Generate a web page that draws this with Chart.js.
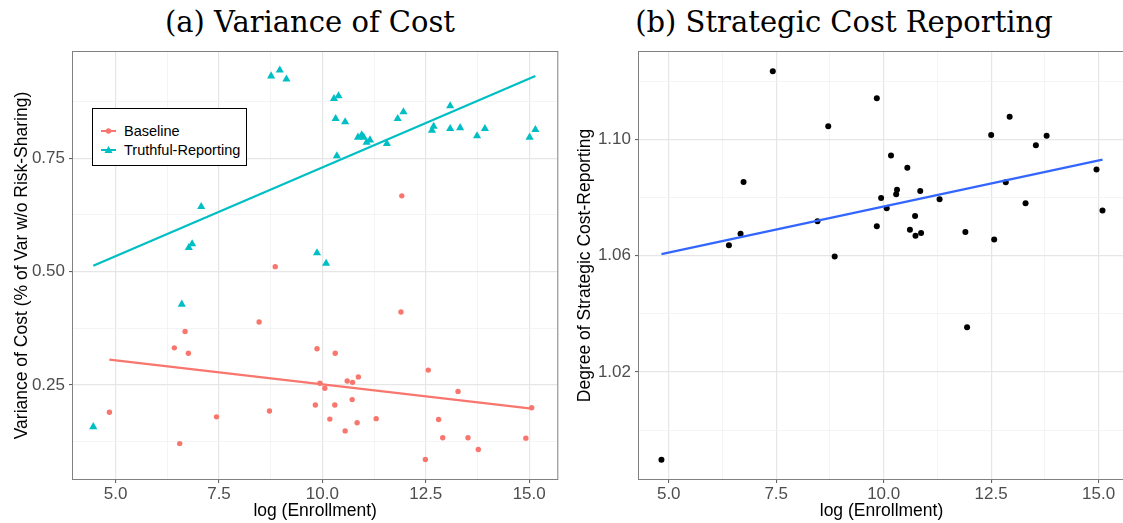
<!DOCTYPE html>
<html>
<head>
<meta charset="utf-8">
<script src="https://cdn.jsdelivr.net/npm/chart.js@4.4.0/dist/chart.umd.min.js"></script>
<style>
  body { margin: 0; width: 1123px; height: 523px; overflow: hidden; background: #fff; position: relative;
         font-family: "Liberation Sans", Arial, sans-serif; }
  .panel { position: absolute; top: 0; }
  .title { position: absolute; top: 8px; font-family: "DejaVu Serif", serif; font-size: 29px; line-height: 29px;
           white-space: nowrap; transform: translateX(-50%); color: #000; }
  #legend { position: absolute; left: 92px; top: 108px; width: 153px; height: 56px; border: 1px solid #000;
            background: #fff; font-size: 14.5px; color: #000; }
  .item { position: absolute; left: 8px; height: 20px; line-height: 20px; white-space: nowrap; }
  .item svg { position: absolute; left: 0; top: 4px; }
  .item span { position: absolute; left: 23px; }
</style>
</head>
<body>
<div class="title" style="left:310px">(a) Variance of Cost</div>
<div class="title" style="left:844px">(b) Strategic Cost Reporting</div>
<canvas id="costChart" class="panel" style="left:0" width="562" height="523"></canvas>
<canvas id="strategicChart" class="panel" style="left:562px" width="566" height="523"></canvas>
<div id="legend">
  <div class="item" style="top:12px">
    <svg width="16" height="12"><line x1="0" y1="6" x2="15" y2="6" stroke="#F8766D" stroke-width="2"/><circle cx="7.5" cy="6" r="2.7" fill="#F8766D"/></svg>
    <span id="lgBase"></span>
  </div>
  <div class="item" style="top:31px">
    <svg width="16" height="12"><line x1="0" y1="6" x2="15" y2="6" stroke="#00BFC4" stroke-width="2"/><polygon points="7.5,2 11.5,9 3.5,9" fill="#00BFC4"/></svg>
    <span id="lgTruth"></span>
  </div>
</div>
<script>
// === data ===
const seriesNames = ['Baseline', 'Truthful-Reporting'];

const baselineX = [8.86, 11.92, 8.47, 6.68, 6.42, 6.76, 4.85, 7.44, 8.72, 6.55, 9.87, 10.31, 11.90, 12.56,
  10.60, 10.73, 10.87, 9.94, 10.06, 13.28, 9.83, 10.30, 10.72, 10.18, 11.30, 10.84, 10.55, 12.81, 12.91,
  13.52, 13.77, 12.49, 14.92, 15.06];
const baselineY = [0.511, 0.667, 0.389, 0.368, 0.332, 0.320, 0.190, 0.180, 0.193, 0.121, 0.330, 0.320, 0.411, 0.283,
  0.259, 0.256, 0.268, 0.254, 0.243, 0.236, 0.206, 0.206, 0.218, 0.175, 0.176, 0.167, 0.149, 0.174, 0.134,
  0.134, 0.108, 0.086, 0.133, 0.200];

const truthfulX = [8.76, 8.97, 9.13, 7.07, 6.77, 6.85, 9.87, 10.09, 10.28, 10.39, 10.32, 10.55, 10.35, 10.86,
  10.95, 11.00, 11.07, 11.15, 11.56, 11.82, 11.96, 12.65, 12.69, 13.09, 13.09, 13.33, 13.74, 13.93, 15.01,
  15.15, 6.60, 4.46];
const truthfulY = [0.931, 0.944, 0.924, 0.643, 0.553, 0.561, 0.541, 0.518, 0.881, 0.887, 0.837, 0.830, 0.755, 0.796,
  0.801, 0.796, 0.785, 0.790, 0.782, 0.837, 0.852, 0.811, 0.820, 0.865, 0.815, 0.817, 0.799, 0.815, 0.796,
  0.813, 0.428, 0.158];

const strategicX = [7.42, 9.84, 8.71, 6.74, 8.46, 6.67, 6.40, 8.86, 9.84, 12.93, 12.50, 13.79, 13.54, 10.17,
  10.55, 14.95, 12.84, 9.94, 10.31, 10.29, 10.85, 10.07, 11.30, 13.30, 15.09, 10.73, 10.61, 10.87, 10.74,
  11.90, 12.57, 11.94, 4.83];
const strategicY = [1.1234, 1.1141, 1.1045, 1.0853, 1.0718, 1.0675, 1.0636, 1.0597, 1.0701, 1.1077, 1.1015, 1.1012, 1.0979, 1.0944,
  1.0902, 1.0896, 1.0852, 1.0798, 1.0826, 1.0811, 1.0822, 1.0763, 1.0794, 1.0780, 1.0755, 1.0736, 1.0689, 1.0678, 1.0668,
  1.0681, 1.0655, 1.0354, 0.9898];

// fitted lines (end points)
const baselineFitX = [4.85, 15.06];
const baselineFitY = [0.306, 0.198];
const truthfulFitX = [4.46, 15.15];
const truthfulFitY = [0.513, 0.931];
const strategicFitX = [4.83, 15.09];
const strategicFitY = [1.0605, 1.0930];

// tick values and labels
const xMajor = [5, 7.5, 10, 12.5, 15];
const xLabels = ['5.0', '7.5', '10.0', '12.5', '15.0'];
const xMinor = [6.25, 8.75, 11.25, 13.75];
const costYMajor = [0.25, 0.5, 0.75];
const costYLabels = ['0.25', '0.50', '0.75'];
const costYMinor = [0.125, 0.375, 0.625, 0.875];
const stratYMajor = [1.02, 1.06, 1.10];
const stratYLabels = ['1.02', '1.06', '1.10'];
const stratYMinor = [1.00, 1.04, 1.08, 1.12];

const RED = '#F8766D', TEAL = '#00BFC4', BLUE = '#3366FF';

document.getElementById('lgBase').textContent = seriesNames[0];
document.getElementById('lgTruth').textContent = seriesNames[1];

Chart.defaults.font.family = "'Liberation Sans', Arial, sans-serif";
Chart.defaults.animation = false;

function pts(xs, ys) { return xs.map((x, i) => ({ x: x, y: ys[i] })); }

// ggplot-ish axis: major + minor grid lines, labels only on majors
function axis(min, max, major, labels, minor, title, size, titlePad) {
  const horizontal = size.h !== undefined;
  return {
    type: 'linear', min: min, max: max,
    afterBuildTicks: s => {
      s.ticks = major.map(v => ({ value: v, major: true }))
        .concat(minor.map(v => ({ value: v })))
        .sort((a, b) => a.value - b.value);
    },
    afterFit: s => { if (horizontal) s.height = size.h; else s.width = size.w; },
    ticks: {
      autoSkip: false, maxRotation: 0, color: '#4d4d4d', padding: horizontal ? 1 : 4,
      font: { size: 17 },
      callback: v => { const k = major.indexOf(v); return k >= 0 ? labels[k] : ''; }
    },
    grid: {
      color: c => c.tick && c.tick.major ? '#e6e6e6' : '#f1f1f1',
      lineWidth: c => c.tick && c.tick.major ? 1.2 : 0.8,
      tickColor: c => c.tick && c.tick.major ? '#555' : 'rgba(0,0,0,0)',
      tickWidth: 1, tickLength: 4
    },
    border: { display: false },
    title: { display: true, text: title, color: '#000', font: { size: 17.5 }, padding: titlePad }
  };
}

const panelBorder = {
  id: 'panelBorder',
  afterDraw(chart) {
    const { ctx, chartArea: a } = chart;
    ctx.save();
    ctx.strokeStyle = '#808080';
    ctx.lineWidth = 1;
    ctx.strokeRect(a.left - 0.5, a.top - 0.5, a.right - a.left + 1, a.bottom - a.top + 1);
    ctx.restore();
  }
};

const common = {
  responsive: false,
  plugins: { legend: { display: false }, tooltip: { enabled: false } }
};

new Chart(document.getElementById('costChart'), {
  type: 'scatter',
  data: {
    datasets: [
      { label: seriesNames[0], data: pts(baselineX, baselineY), backgroundColor: RED, borderColor: RED,
        pointRadius: 2.7, borderWidth: 0, order: 2 },
      { label: seriesNames[1], data: pts(truthfulX, truthfulY), backgroundColor: TEAL, borderColor: TEAL,
        pointStyle: 'triangle', pointRadius: 4.7, borderWidth: 0, order: 2 },
      { data: pts(baselineFitX, baselineFitY), showLine: true, borderColor: RED, borderWidth: 2.2,
        pointRadius: 0, order: 1 },
      { data: pts(truthfulFitX, truthfulFitY), showLine: true, borderColor: TEAL, borderWidth: 2.2,
        pointRadius: 0, order: 1 }
    ]
  },
  options: Object.assign({}, common, {
    layout: { padding: { top: 52, right: 2, left: 0, bottom: 0 } },
    scales: {
      x: axis(3.97, 15.68, xMajor, xLabels, xMinor, 'log (Enrollment)', { h: 44 }, { top: 0, bottom: 1.5 }),
      y: axis(0.043, 0.984, costYMajor, costYLabels, costYMinor,
        'Variance of Cost (% of Var w/o Risk-Sharing)', { w: 73 }, { top: 11.5, bottom: 0 })
    }
  }),
  plugins: [panelBorder]
});

new Chart(document.getElementById('strategicChart'), {
  type: 'scatter',
  data: {
    datasets: [
      { data: pts(strategicX, strategicY), backgroundColor: '#000', borderColor: '#000',
        pointRadius: 3, borderWidth: 0, order: 2 },
      { data: pts(strategicFitX, strategicFitY), showLine: true, borderColor: BLUE, borderWidth: 2.2,
        pointRadius: 0, order: 1 }
    ]
  },
  options: Object.assign({}, common, {
    layout: { padding: { top: 52, right: 0, left: 0, bottom: 0 } },
    scales: {
      x: axis(4.308, 15.59, xMajor, xLabels, xMinor, 'log (Enrollment)', { h: 44 }, { top: 0, bottom: 1.5 }),
      y: axis(0.9832, 1.1300, stratYMajor, stratYLabels, stratYMinor,
        'Degree of Strategic Cost-Reporting', { w: 77 }, { top: 12.5, bottom: 0 })
    }
  }),
  plugins: [panelBorder]
});
</script>
</body>
</html>
